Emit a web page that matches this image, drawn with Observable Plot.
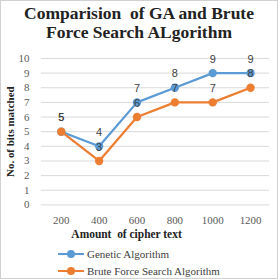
<!DOCTYPE html>
<html>
<head>
<meta charset="utf-8">
<script src="https://cdn.jsdelivr.net/npm/d3@7"></script>
<script src="https://cdn.jsdelivr.net/npm/@observablehq/plot@0.6"></script>
<style>
  html, body { margin: 0; padding: 0; background: #fff; }
  #wrap { position: relative; width: 278px; height: 279px; box-sizing: border-box; border: 1px solid #d0d0d0; background: #fff; overflow: hidden; }
  #title { position: absolute; left: 0; top: 3px; width: 276px; text-align: center; font-family: "Times New Roman", "Liberation Serif", "DejaVu Serif", serif; font-weight: bold; font-size: 17.5px; line-height: 19px; color: #222; }
  #chart { position: absolute; left: -1px; top: 44px; }
  .leg { position: absolute; left: 57px; font-family: "Times New Roman", "Liberation Serif", "DejaVu Serif", serif; font-size: 11px; color: #404040; display: flex; align-items: center; }
  .sw { position: relative; width: 26px; height: 10px; margin-right: 3px; }
  .sw .ln { position: absolute; left: 0; top: 4px; width: 26px; height: 2px; }
  .sw .dt { position: absolute; left: 9px; top: 1px; width: 8px; height: 8px; border-radius: 50%; }
</style>
</head>
<body>
<div id="wrap">
  <div id="title">Comparision&nbsp; of GA and Brute<br>Force Search ALgorithm</div>
  <div id="chart"></div>
  <div id="legend"></div>
</div>
<script>
const categories = ["200", "400", "600", "800", "1000", "1200"];
const gaValues = [5, 4, 7, 8, 9, 9];
const bfValues = [5, 3, 6, 7, 7, 8];
const seriesNames = ["Genetic Algorithm", "Brute Force Search Algorithm"];
const seriesColors = ["#5B9BD5", "#ED7D31"];
const yTicks = [0, 1, 2, 3, 4, 5, 6, 7, 8, 9, 10];

const rows = [];
categories.forEach((c, i) => {
  rows.push({cat: c, value: gaValues[i], series: seriesNames[0]});
});
categories.forEach((c, i) => {
  rows.push({cat: c, value: bfValues[i], series: seriesNames[1]});
});

const serif = "'Times New Roman', 'Liberation Serif', 'DejaVu Serif', serif";

const plot = Plot.plot({
  width: 278,
  height: 200,
  marginLeft: 41,
  marginRight: 8,
  marginTop: 13,
  marginBottom: 40,
  style: {fontFamily: serif, fontSize: "11px", color: "#595959", background: "transparent"},
  x: {type: "point", domain: categories, padding: 0.5},
  y: {domain: [0, 10]},
  color: {domain: seriesNames, range: seriesColors},
  marks: [
    Plot.ruleY(yTicks, {stroke: "#d9d9d9", strokeWidth: 1}),
    Plot.axisY({ticks: yTicks, tickSize: 0, tickPadding: 12, label: null, fill: "#595959", fontFamily: serif}),
    Plot.axisX({tickSize: 0, tickPadding: 11, label: null, fill: "#595959", fontFamily: serif}),
    Plot.text(["No. of bits matched"], {frameAnchor: "left", textAnchor: "middle", rotate: -90, dx: -31, dy: 0, fontWeight: "bold", fontSize: 11, fill: "#222", fontFamily: serif}),
    Plot.text(["Amount  of cipher text"], {frameAnchor: "bottom", textAnchor: "middle", dx: -29, dy: 33, fontWeight: "bold", fontSize: 11.5, fill: "#222", fontFamily: serif}),
    Plot.line(rows, {x: "cat", y: "value", z: "series", stroke: "series", strokeWidth: 2.25}),
    Plot.dot(rows, {x: "cat", y: "value", fill: "series", r: 4.2}),
    Plot.text(rows, {x: "cat", y: "value", text: d => String(d.value), dy: -14, fill: "#404040", fontFamily: "Liberation Sans, sans-serif", fontSize: 11})
  ]
});
document.getElementById("chart").appendChild(plot);

const legend = document.getElementById("legend");
seriesNames.forEach((name, i) => {
  const row = document.createElement("div");
  row.className = "leg";
  row.style.top = (247 + i * 17) + "px";
  row.innerHTML = `<span class="sw"><span class="ln" style="background:${seriesColors[i]}"></span><span class="dt" style="background:${seriesColors[i]}"></span></span><span>${name}</span>`;
  legend.appendChild(row);
});
</script>
</body>
</html>
